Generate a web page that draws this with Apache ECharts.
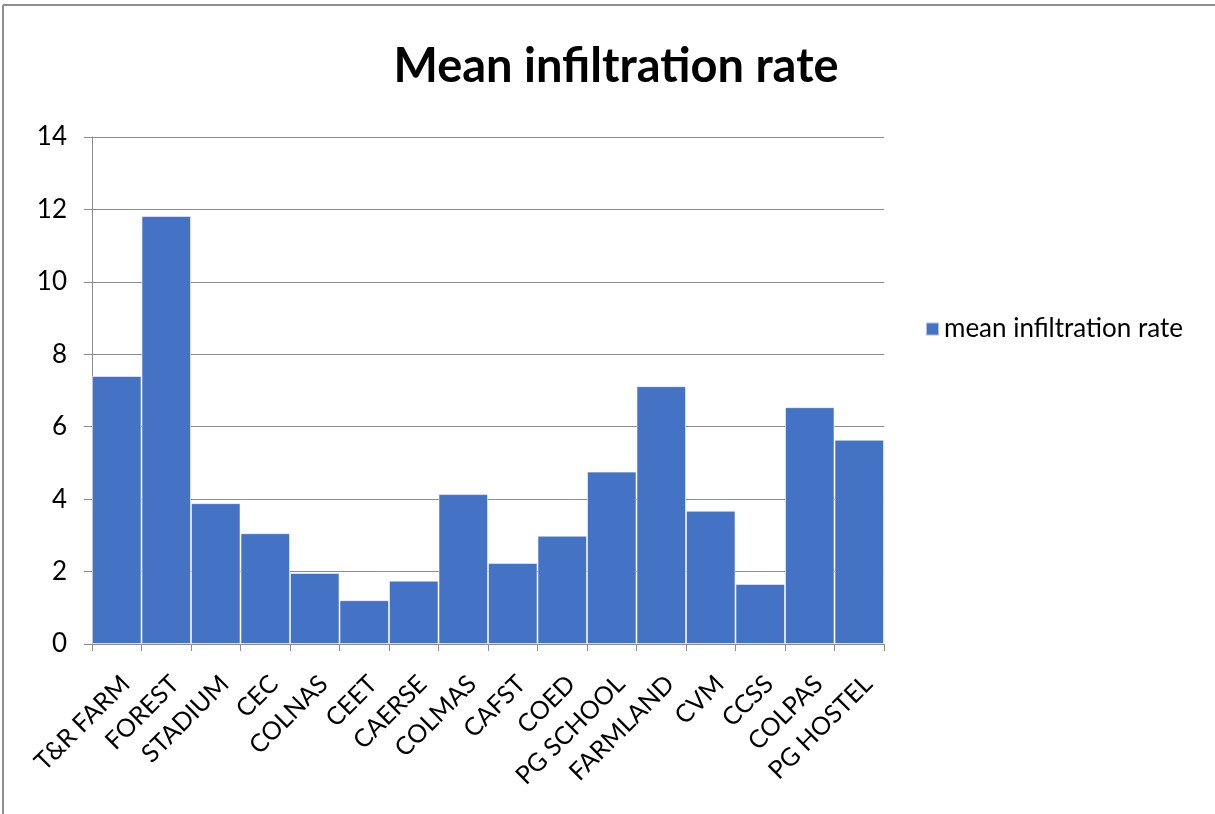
<!DOCTYPE html>
<html>
<head>
<meta charset="utf-8">
<script src="https://cdn.jsdelivr.net/npm/echarts@6/dist/echarts.min.js"></script>
<style>
  html, body { margin: 0; padding: 0; background: #fff; }
  #chart { width: 1215px; height: 814px; }
</style>
</head>
<body>
<div id="chart"></div>
<script>
// Sampling sites along the x axis
const sites = ['T&R FARM', 'FOREST', 'STADIUM', 'CEC', 'COLNAS', 'CEET', 'CAERSE', 'COLMAS',
               'CAFST', 'COED', 'PG SCHOOL', 'FARMLAND', 'CVM', 'CCSS', 'COLPAS', 'PG HOSTEL'];
// Mean infiltration rate per site
const meanRate = [7.40, 11.82, 3.89, 3.06, 1.96, 1.21, 1.75, 4.14,
                  2.24, 2.99, 4.76, 7.12, 3.68, 1.66, 6.54, 5.64];
const seriesName = 'mean infiltration rate';
const yTicks = [0, 2, 4, 6, 8, 10, 12, 14];

const FONT = 'Lato, "Open Sans", sans-serif';
const chart = echarts.init(document.getElementById('chart'), null, { renderer: 'canvas' });

chart.setOption({
  animation: false,
  backgroundColor: '#ffffff',
  title: {
    text: 'Mean infiltration rate',
    left: 611,
    top: 38,
    textAlign: 'center',
    textStyle: { fontFamily: FONT, fontWeight: 'bold', fontSize: 47, color: '#000' }
  },
  legend: {
    data: [seriesName],
    left: 920,
    top: 311,
    icon: 'rect',
    itemWidth: 13,
    itemHeight: 13,
    itemGap: 10,
    textStyle: { fontFamily: FONT, fontSize: 26, color: '#000' }
  },
  grid: { left: 92, top: 137, width: 792, height: 507, containLabel: false },
  xAxis: {
    type: 'category',
    data: sites,
    boundaryGap: true,
    axisLine: { lineStyle: { color: '#8c8c8c', width: 1 } },
    axisTick: { show: true, length: 7, lineStyle: { color: '#8c8c8c' } },
    axisLabel: {
      rotate: 45,
      interval: 0,
      margin: 27,
      verticalAlign: 'top',
      fontFamily: FONT,
      fontSize: 25,
      color: '#000'
    }
  },
  yAxis: {
    type: 'value',
    min: yTicks[0],
    max: yTicks[yTicks.length - 1],
    interval: 2,
    axisLine: { show: true, lineStyle: { color: '#8c8c8c', width: 1 } },
    axisTick: { show: true, length: 8, lineStyle: { color: '#8c8c8c' } },
    axisLabel: { margin: 25, fontFamily: FONT, fontSize: 26, color: '#000' },
    splitLine: { show: true, lineStyle: { color: '#8c8c8c', width: 1 } }
  },
  series: [{
    name: seriesName,
    type: 'bar',
    data: meanRate,
    barCategoryGap: '0%',
    itemStyle: { color: '#4472c4', borderColor: 'rgba(255,255,255,0.55)', borderWidth: 1 }
  }],
  graphic: [
    // frame along the top and left edges
    { type: 'line', shape: { x1: 3, y1: 5, x2: 1215, y2: 5 }, style: { stroke: '#8f8f8f', lineWidth: 2 }, silent: true },
    { type: 'line', shape: { x1: 3, y1: 5, x2: 3, y2: 814 }, style: { stroke: '#8f8f8f', lineWidth: 2 }, silent: true }
  ]
});
</script>
</body>
</html>
